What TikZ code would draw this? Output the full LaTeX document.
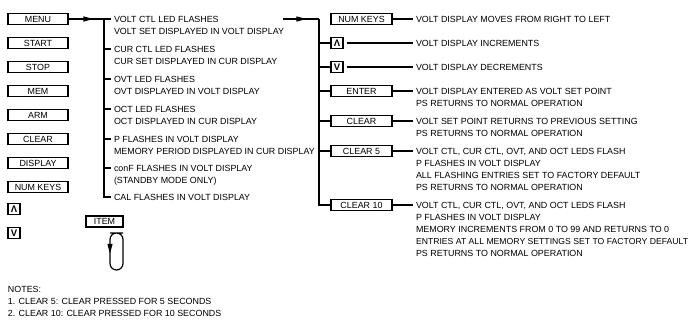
\documentclass[tikz,border=0pt]{standalone}
\usepackage{fontspec}
\setmainfont{Liberation Sans}
\usetikzlibrary{positioning}
\usetikzlibrary{arrows.meta, decorations.markings}

\newcommand{\panelfont}{\fontsize{8.9}{12}\selectfont}

\begin{document}
\begin{tikzpicture}[x=1pt, y=-1pt,
	key/.style={draw, line width=1.2pt, fill=white, inner sep=0pt,
	minimum width=#1, minimum height=11pt, font=\panelfont},
	key/.default=60pt,
	arrowkey/.style={draw, line width=1.2pt, fill=white, inner sep=0pt,
	minimum width=12pt, minimum height=11pt, font=\fontsize{9.5}{10}\selectfont\bfseries},
	txt/.style={anchor=north west, inner sep=0pt, outer xsep=3pt, outer ysep=0pt,
	align=left, font=\panelfont},
	tree/.style={line width=1.2pt},
	midarr/.style={tree, postaction={decorate}, decoration={markings,
	mark=at position #1 with {\arrow{Triangle[length=10pt, width=5pt]}}}}]

	\useasboundingbox (0,0) rectangle (691,320);

	% front panel keys
	\node [key] (menu) at (38,19) {MENU};
	\node [key] (start) at (38,43) {START};
	\node [key] (stop) at (38,67) {STOP};
	\node [key] (mem) at (38,91) {MEM};
	\node [key] (arm) at (38,115) {ARM};
	\node [key] (clear) at (38,139) {CLEAR};
	\node [key] (display) at (38,163) {DISPLAY};
	\node [key] (numkeys) at (38,187) {NUM KEYS};
	\node [arrowkey] (up) at (14,209) {Λ};
	\node [arrowkey] (down) at (14,233) {V};

	% menu items
	\node [txt] (vctl) at (111,15.8) {VOLT CTL LED FLASHES\\VOLT SET DISPLAYED IN VOLT DISPLAY};
	\node [txt] (cctl) at (111,45.8) {CUR CTL LED FLASHES\\CUR SET DISPLAYED IN CUR DISPLAY};
	\node [txt] (ovt) at (111,75.8) {OVT LED FLASHES\\OVT DISPLAYED IN VOLT DISPLAY};
	\node [txt] (oct) at (111,105.8) {OCT LED FLASHES\\OCT DISPLAYED IN CUR DISPLAY};
	\node [txt] (pfl) at (111,135.8) {P FLASHES IN VOLT DISPLAY\\MEMORY PERIOD DISPLAYED IN CUR DISPLAY};
	\node [txt] (conf) at (111,164.8) {conF FLASHES IN VOLT DISPLAY\\(STANDBY MODE ONLY)};
	\node [txt] (cal) at (111,193.8) {CAL FLASHES IN VOLT DISPLAY};

	\coordinate (m1) at (104,19);
	\coordinate (m2) at (104,49);
	\coordinate (m3) at (104,79);
	\coordinate (m4) at (104,109);
	\coordinate (m5) at (104,139);
	\coordinate (m6) at (104,168);
	\coordinate (m7) at (104,197);

	\draw [midarr=.7] (menu.east) -- (m1);
	\draw [tree] (m1) -- (m7) -- (m7 -| cal.west);
	\draw [tree] (m1) -- (m1 -| vctl.west);
	\draw [tree] (m2) -- (m2 -| cctl.west);
	\draw [tree] (m3) -- (m3 -| ovt.west);
	\draw [tree] (m4) -- (m4 -| oct.west);
	\draw [tree] (m5) -- (m5 -| pfl.west);
	\draw [tree] (m6) -- (m6 -| conf.west);

	% keys while an item is shown
	\node [key=61pt] (numkeys2) at (361.5,19) {NUM KEYS};
	\node [arrowkey] (up2) at (337,43) {Λ};
	\node [arrowkey] (down2) at (337,67) {V};
	\node [key=61pt] (enter) at (361.5,91) {ENTER};
	\node [key=61pt] (clear2) at (361.5,121) {CLEAR};
	\node [key=61pt] (clear5) at (361.5,151) {CLEAR 5};
	\node [key=61pt] (clear10) at (361.5,205) {CLEAR 10};

	\node [txt] (rnum) at (413,15.8) {VOLT DISPLAY MOVES FROM RIGHT TO LEFT};
	\node [txt] (rup) at (413,39.8) {VOLT DISPLAY INCREMENTS};
	\node [txt] (rdown) at (413,63.8) {VOLT DISPLAY DECREMENTS};
	\node [txt] (renter) at (413,87.8) {VOLT DISPLAY ENTERED AS VOLT SET POINT\\PS RETURNS TO NORMAL OPERATION};
	\node [txt] (rclear) at (413,117.8) {VOLT SET POINT RETURNS TO PREVIOUS SETTING\\PS RETURNS TO NORMAL OPERATION};
	\node [txt] (rclear5) at (413,147.8) {VOLT CTL, CUR CTL, OVT, AND OCT LEDS FLASH\\P FLASHES IN VOLT DISPLAY\\ALL FLASHING ENTRIES SET TO FACTORY DEFAULT\\PS RETURNS TO NORMAL OPERATION};
	\node [txt] (rclear10) at (413,201.8) {VOLT CTL, CUR CTL, OVT, AND OCT LEDS FLASH\\P FLASHES IN VOLT DISPLAY\\MEMORY INCREMENTS FROM 0 TO 99 AND RETURNS TO 0\\{\fontsize{8.65}{12}\selectfont ENTRIES AT ALL MEMORY SETTINGS SET TO FACTORY DEFAULT}\\PS RETURNS TO NORMAL OPERATION};

	\coordinate (a2) at (283,19);
	\coordinate (r1) at (319,19);
	\coordinate (r7) at (319,205);

	\draw [midarr=.65] (a2) -- (r1);
	\draw [tree] (r1) -- (r7) -- (clear10.west);
	\draw [tree] (up2 -| r1) -- (up2.west);
	\draw [tree] (down2 -| r1) -- (down2.west);
	\draw [tree] (enter -| r1) -- (enter.west);
	\draw [tree] (clear2 -| r1) -- (clear2.west);
	\draw [tree] (clear5 -| r1) -- (clear5.west);

	\draw [tree] (numkeys2.east) -- (numkeys2.east -| rnum.west);
	\draw [tree, shorten <=3pt] (up2.east) -- (up2.east -| rup.west);
	\draw [tree, shorten <=3pt] (down2.east) -- (down2.east -| rdown.west);
	\draw [tree] (enter.east) -- (enter.east -| renter.west);
	\draw [tree] (clear2.east) -- (clear2.east -| rclear.west);
	\draw [tree] (clear5.east) -- (clear5.east -| rclear5.west);
	\draw [tree] (clear10.east) -- (clear10.east -| rclear10.west);

	% item key and loop
	\node [key=37pt] (item) at (104.5,221.5) {ITEM};
	\coordinate (lp) at (116.5,233);
	\draw [midarr=.27, rounded corners=6.5pt] (lp) -- (110,233) -- (110,270) -- (123,270) -- (123,233) -- cycle;

	% notes
	\node [txt] (notes) at (5,285.8) {NOTES:\\1. CLEAR 5: CLEAR PRESSED FOR 5 SECONDS\\2. CLEAR 10: CLEAR PRESSED FOR 10 SECONDS};
\end{tikzpicture}
\end{document}
